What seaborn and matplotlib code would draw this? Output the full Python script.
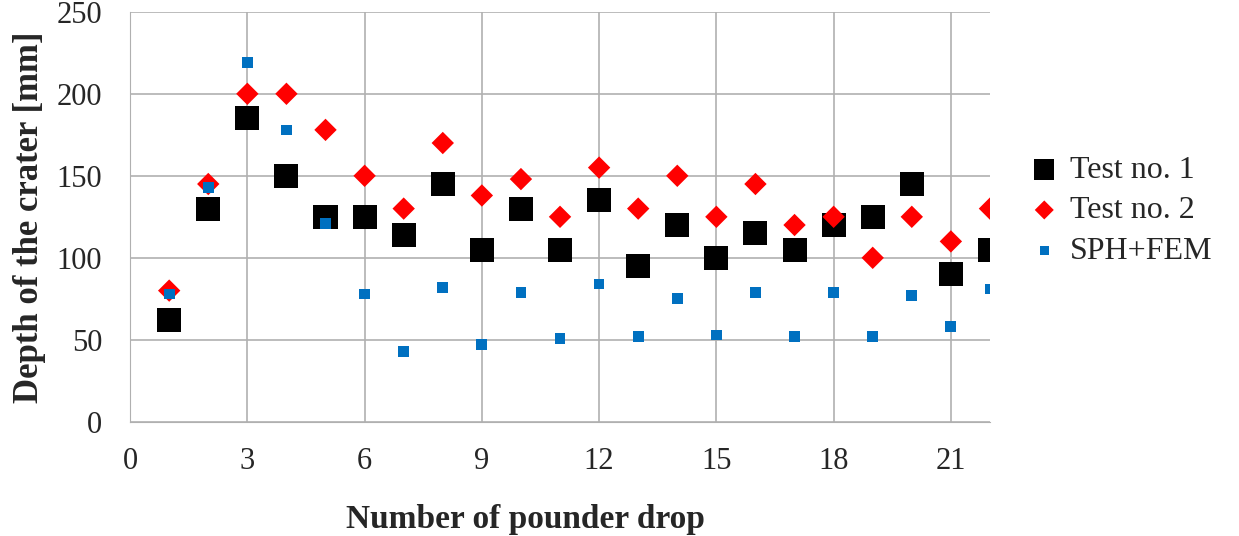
import matplotlib
matplotlib.use("Agg")
import matplotlib.pyplot as plt
import numpy as np
import pandas as pd
import seaborn as sns

drops = list(range(1, 23))
test1 = [62, 130, 185, 150, 125, 125, 114, 145, 105, 130, 105,
         135, 95, 120, 100, 115, 105, 120, 125, 145, 90, 105]
test2 = [80, 145, 200, 200, 178, 150, 130, 170, 138, 148, 125,
         155, 130, 150, 125, 145, 120, 125, 100, 125, 110, 130]
sph_fem = [78, 143, 219, 178, 121, 78, 43, 82, 47, 79, 51,
           84, 52, 75, 53, 79, 52, 79, 52, 77, 58, 81]

sns.set_style("white")
plt.rcParams["font.family"] = ["Liberation Serif", "DejaVu Serif"]

fig, ax = plt.subplots(figsize=(12.39, 5.36), dpi=100)
fig.subplots_adjust(left=0.105, right=0.799, top=0.978, bottom=0.213)

series = [
    ("Test no. 1", test1, "s", "black", 300),
    ("Test no. 2", test2, "D", "#ff0000", 130),
    ("SPH+FEM", sph_fem, "s", "#0070c0", 60),
]
for name, vals, mk, col, size in series:
    df = pd.DataFrame({"drop": drops, "depth": vals})
    sns.scatterplot(data=df, x="drop", y="depth", marker=mk, color=col,
                    s=size, edgecolor="none", label=name, ax=ax, zorder=3)

ax.set_xlim(0, 22)
ax.set_ylim(0, 250)
ax.set_xticks(np.arange(0, 22, 3))
ax.set_yticks(np.arange(0, 251, 50))
ax.grid(True, color="#b0b0b0", lw=1.2)
for s in ["top", "right"]:
    ax.spines[s].set_visible(False)
for s in ["left", "bottom"]:
    ax.spines[s].set_color("#b0b0b0")
ax.tick_params(labelsize=22, length=0)
ax.tick_params(axis="x", pad=18)
ax.tick_params(axis="y", pad=20)
ax.set_xlabel("Number of pounder drop", fontsize=24, fontweight="bold", labelpad=20)
ax.xaxis.label.set_x(0.46)
ax.set_ylabel("Depth of the crater [mm]", fontsize=25, fontweight="bold", labelpad=8)

ax.legend(loc="center left", bbox_to_anchor=(1.0, 0.515), frameon=False,
          fontsize=23, handletextpad=0.0, labelspacing=0.35, markerscale=0.85,
          handlelength=1.6)

fig.savefig("out.png", dpi=100)
